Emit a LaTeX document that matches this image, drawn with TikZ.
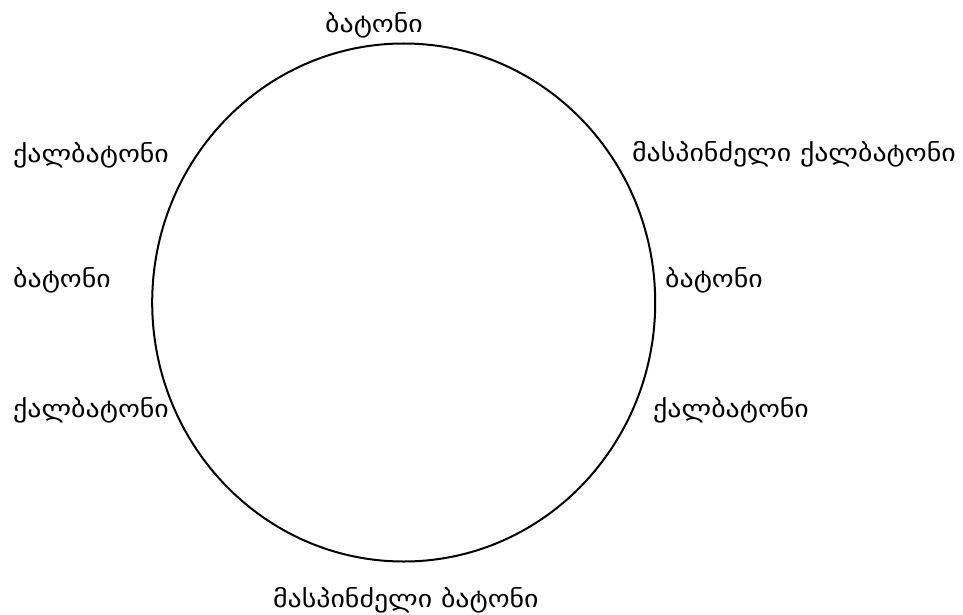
\documentclass[tikz,border=0pt]{standalone}
\usetikzlibrary{shapes.geometric}
\usepackage{fontspec}
\newfontfamily\geo[FakeStretch=1.16]{DejaVu Sans}
\begin{document}
\begin{tikzpicture}[x=1pt,y=-1pt,
  lbl/.style={anchor=base west,inner sep=0pt,font=\geo\fontsize{24}{28}\selectfont}]
\useasboundingbox (0,0) rectangle (963,615);
\node[draw,line width=2pt,ellipse,minimum width=503pt,minimum height=518pt,inner sep=0pt] (c) at (403.7,302.5) {};
\node[lbl] (t) at (325,33) {ბატონი};
\node[lbl] (l1) at (13,162) {ქალბატონი};
\node[lbl] (r1) at (632,161) {მასპინძელი ქალბატონი};
\node[lbl] (l2) at (13,287) {ბატონი};
\node[lbl] (r2) at (665,287) {ბატონი};
\node[lbl] (l3) at (13,417) {ქალბატონი};
\node[lbl] (r3) at (653,417) {ქალბატონი};
\node[lbl] (b) at (273,607) {მასპინძელი ბატონი};
\end{tikzpicture}
\end{document}
